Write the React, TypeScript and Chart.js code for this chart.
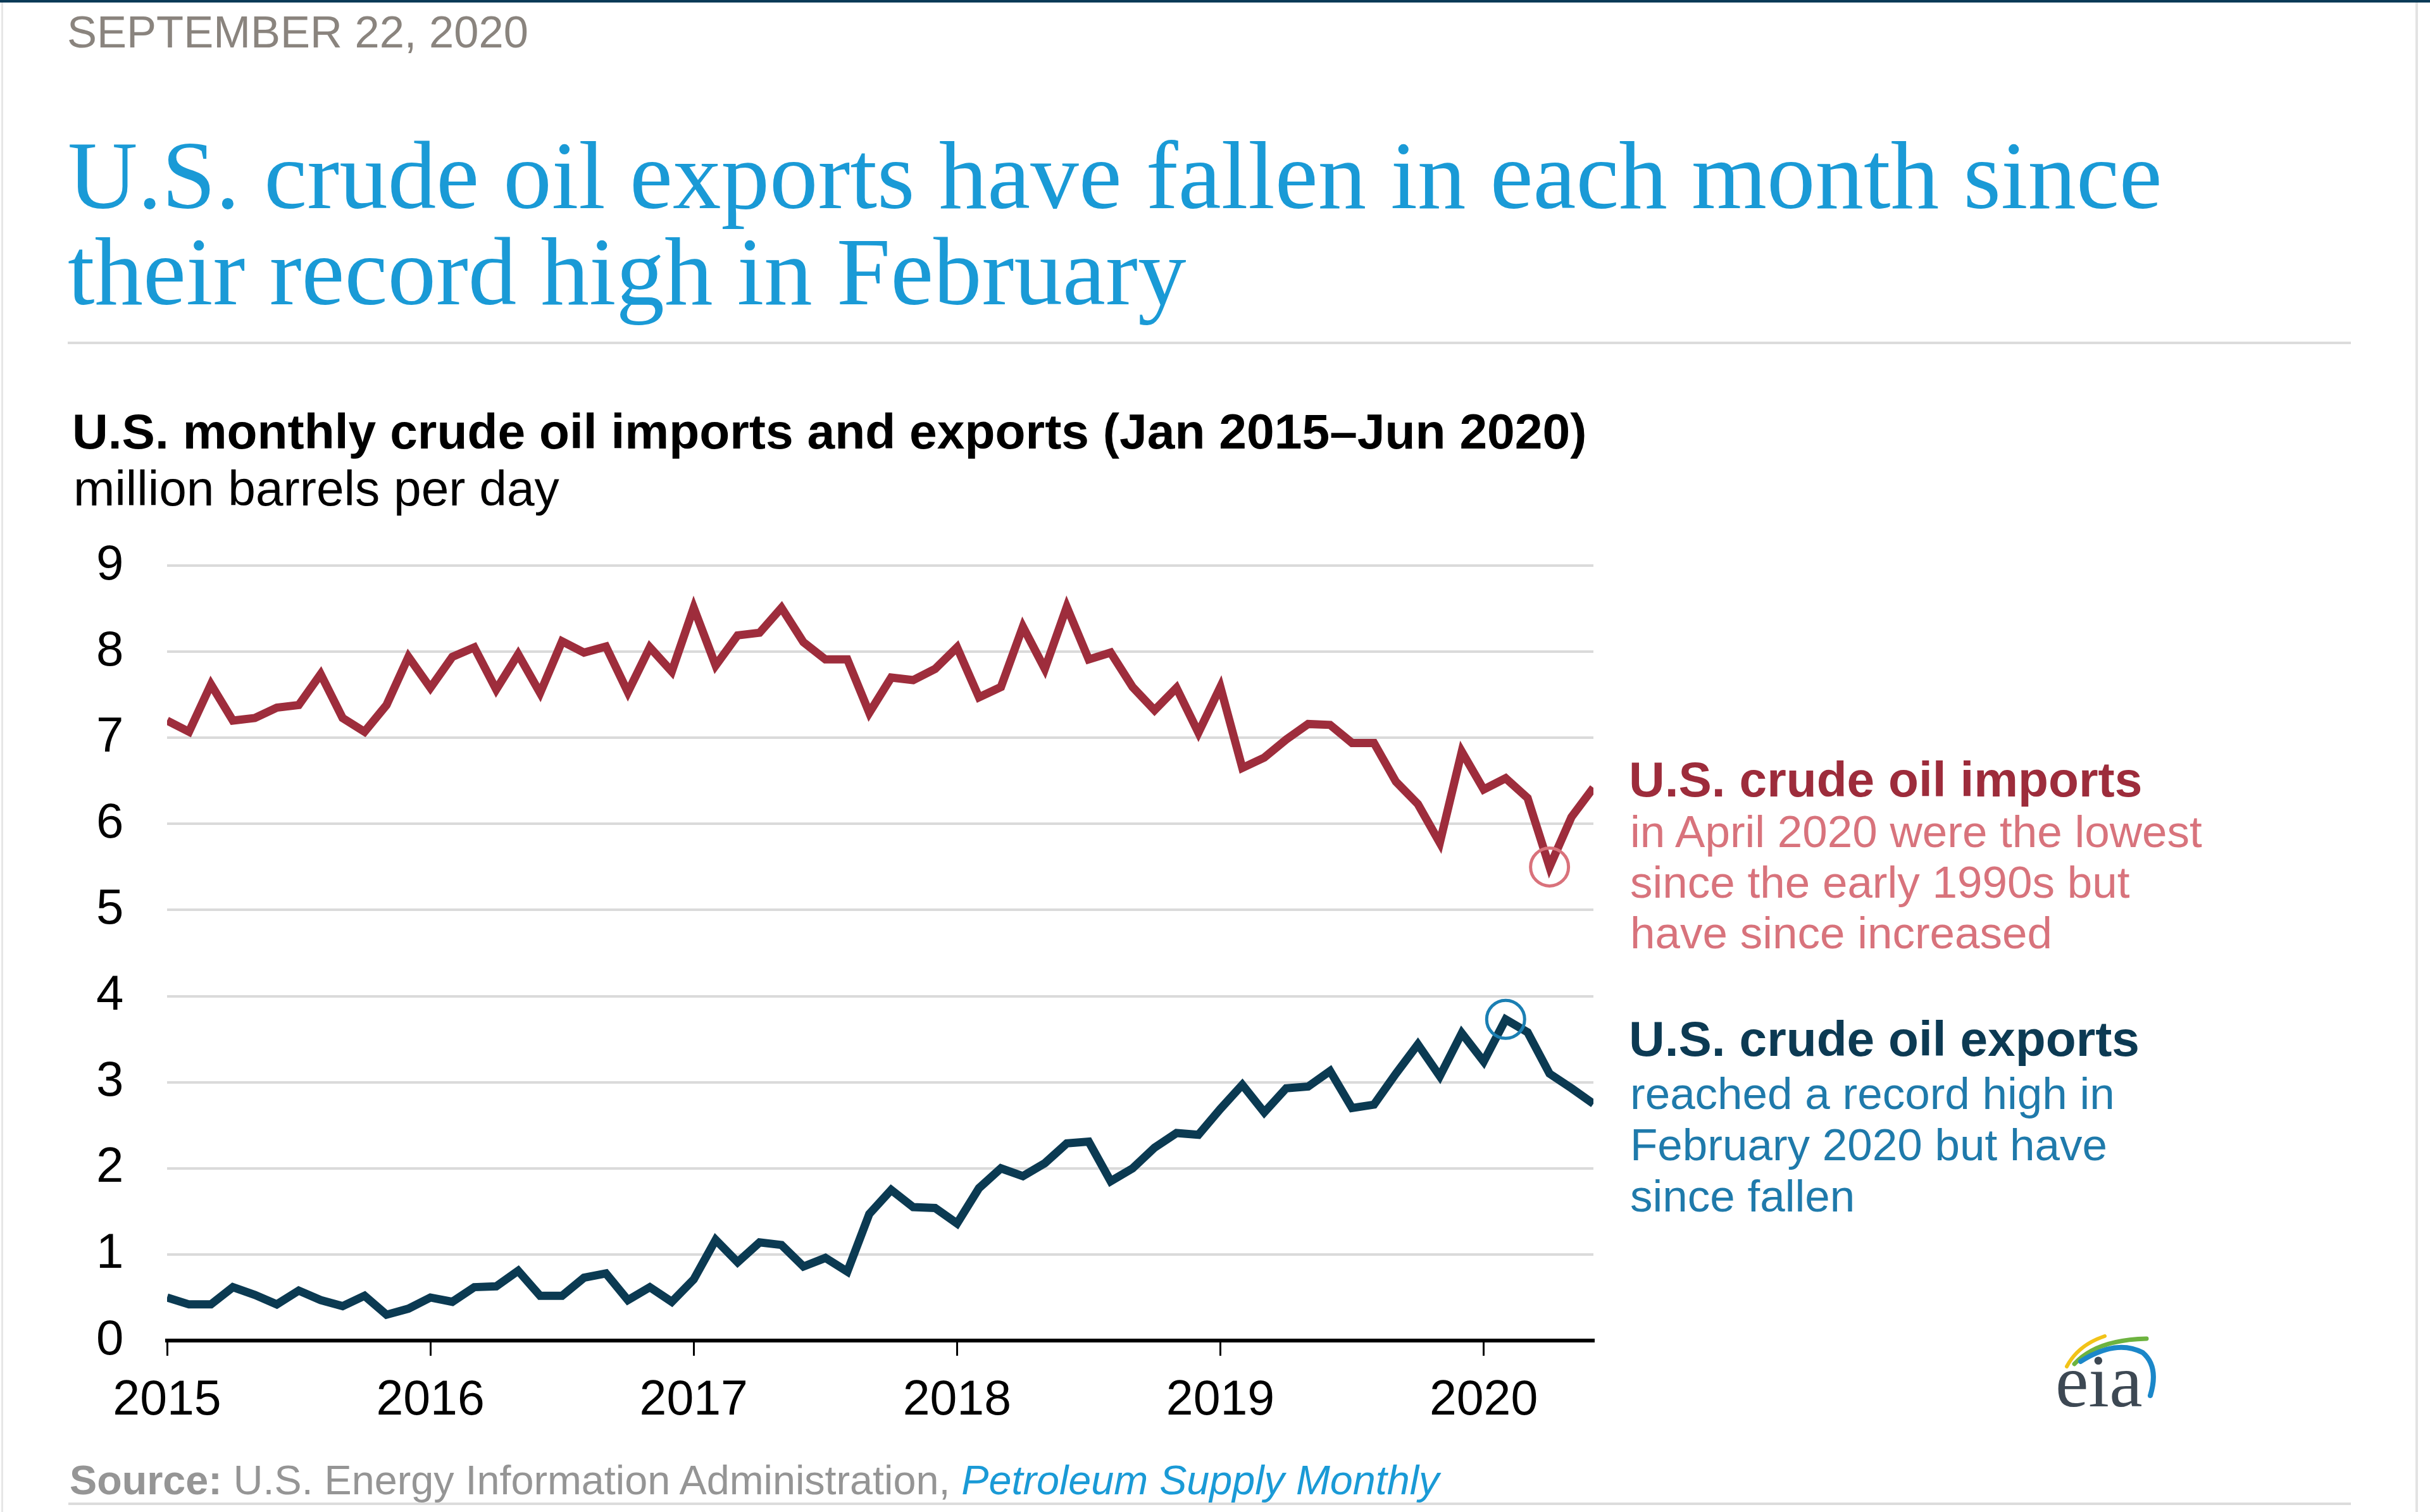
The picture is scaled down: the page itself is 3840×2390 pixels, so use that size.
import React, { useEffect, useRef } from "react";
import { Chart, registerables } from "chart.js";

Chart.register(...registerables);

// ---- data ----
const years = ["2015", "2016", "2017", "2018", "2019", "2020"];
const monthNames = ["Jan", "Feb", "Mar", "Apr", "May", "Jun", "Jul", "Aug", "Sep", "Oct", "Nov", "Dec"];
const yearTickLabels = ["2015", "2016", "2017", "2018", "2019", "2020"];
const yTickValues = [0, 1, 2, 3, 4, 5, 6, 7, 8, 9];

// U.S. crude oil imports, million barrels per day (Jan 2015 – Jun 2020)
const imports2015 = [7.2, 7.07, 7.62, 7.2, 7.23, 7.35, 7.38, 7.74, 7.23, 7.07, 7.38, 7.94];
const imports2016 = [7.58, 7.94, 8.05, 7.56, 7.97, 7.52, 8.12, 7.99, 8.06, 7.53, 8.05, 7.77];
const imports2017 = [8.51, 7.84, 8.19, 8.22, 8.51, 8.11, 7.91, 7.91, 7.29, 7.7, 7.67, 7.8];
const imports2018 = [8.05, 7.47, 7.59, 8.29, 7.8, 8.52, 7.91, 7.99, 7.59, 7.32, 7.58, 7.06];
const imports2019 = [7.59, 6.65, 6.77, 6.98, 7.16, 7.15, 6.94, 6.94, 6.49, 6.23, 5.78, 6.84];
const imports2020 = [6.4, 6.53, 6.3, 5.5, 6.08, 6.42];

// U.S. crude oil exports, million barrels per day
const exports2015 = [0.5, 0.42, 0.42, 0.62, 0.53, 0.42, 0.58, 0.47, 0.4, 0.52, 0.3, 0.37];
const exports2016 = [0.5, 0.45, 0.62, 0.63, 0.81, 0.52, 0.52, 0.73, 0.78, 0.47, 0.62, 0.45];
const exports2017 = [0.71, 1.17, 0.91, 1.14, 1.11, 0.86, 0.96, 0.8, 1.47, 1.75, 1.55, 1.54];
const exports2018 = [1.36, 1.77, 2.0, 1.91, 2.06, 2.29, 2.31, 1.85, 2.0, 2.24, 2.41, 2.39];
const exports2019 = [2.69, 2.97, 2.65, 2.93, 2.95, 3.13, 2.7, 2.74, 3.1, 3.44, 3.07, 3.57];
const exports2020 = [3.24, 3.73, 3.58, 3.1, 2.93, 2.75];

const importsLowLabel = "Apr 2020";
const exportsHighLabel = "Feb 2020";

// ---- derived tables ----
const importsSeries = [...imports2015, ...imports2016, ...imports2017, ...imports2018, ...imports2019, ...imports2020];
const exportsSeries = [...exports2015, ...exports2016, ...exports2017, ...exports2018, ...exports2019, ...exports2020];
const monthLabels: string[] = [];
years.forEach((y) => monthNames.forEach((m) => monthLabels.push(m + " " + y)));
const categories = monthLabels.slice(0, importsSeries.length);
const importsLowIndex = categories.indexOf(importsLowLabel);
const exportsHighIndex = categories.indexOf(exportsHighLabel);

const SANS = "'Liberation Sans', Arial, Helvetica, sans-serif";
const SERIF = "'Liberation Serif', 'Times New Roman', serif";

function topFor(baseline: number, fs: number, lh: number, asc = 0.905, desc = 0.212) {
  return baseline - ((lh - (asc + desc) * fs) / 2 + asc * fs);
}

function Txt(props: {
  x: number;
  baseline: number;
  fs: number;
  lh?: number;
  color: string;
  weight?: number | string;
  family?: string;
  serif?: boolean;
  children: React.ReactNode;
}) {
  const lh = props.lh ?? Math.round(props.fs * 1.15);
  const asc = props.serif ? 0.891 : 0.905;
  const desc = props.serif ? 0.216 : 0.212;
  return (
    <div
      style={{
        position: "absolute",
        left: props.x,
        top: topFor(props.baseline, props.fs, lh, asc, desc),
        fontSize: props.fs,
        lineHeight: lh + "px",
        color: props.color,
        fontWeight: props.weight ?? 400,
        fontFamily: props.family ?? (props.serif ? SERIF : SANS),
        whiteSpace: "nowrap",
      }}
    >
      {props.children}
    </div>
  );
}

function OilChart() {
  const ref = useRef<HTMLCanvasElement | null>(null);
  useEffect(() => {
    if (!ref.current) return;
    const chart = new Chart(ref.current, {
      type: "line",
      data: {
        labels: categories,
        datasets: [
          {
            label: "U.S. crude oil imports",
            data: importsSeries.map((v, i) => ({ x: i, y: v })),
            borderColor: "#9e2d3c",
            borderWidth: 13,
            tension: 0,
            pointRadius: (c: any) => (c.dataIndex === importsLowIndex ? 30 : 0),
            pointBorderColor: "#d9727b",
            pointBackgroundColor: "rgba(0,0,0,0)",
            pointBorderWidth: 5,
            pointHoverRadius: 0,
          },
          {
            label: "U.S. crude oil exports",
            data: exportsSeries.map((v, i) => ({ x: i, y: v })),
            borderColor: "#0b3a52",
            borderWidth: 13,
            tension: 0,
            pointRadius: (c: any) => (c.dataIndex === exportsHighIndex ? 30 : 0),
            pointBorderColor: "#1b7fb3",
            pointBackgroundColor: "rgba(0,0,0,0)",
            pointBorderWidth: 5,
            pointHoverRadius: 0,
          },
        ],
      },
      options: {
        animation: false,
        responsive: false,
        maintainAspectRatio: false,
        devicePixelRatio: 1,
        events: [],
        layout: { padding: { top: 94, right: 182, left: 152, bottom: 0 } },
        plugins: { legend: { display: false }, tooltip: { enabled: false } },
        scales: {
          x: {
            type: "linear",
            min: 0,
            max: categories.length - 1,
            afterBuildTicks: (s: any) => {
              s.ticks = yearTickLabels.map((_, i) => ({ value: i * 12 }));
            },
            afterFit: (s: any) => {
              s.height = 181;
            },
            ticks: {
              autoSkip: false,
              maxRotation: 0,
              minRotation: 0,
              padding: 26,
              color: "#000",
              font: { family: SANS, size: 77 },
              callback: (v: any) => yearTickLabels[Math.round(Number(v) / 12)] ?? "",
            },
            grid: {
              drawOnChartArea: false,
              drawTicks: true,
              tickLength: 24,
              tickWidth: 3,
              tickColor: "#000",
              lineWidth: 3,
              color: "#000",
            },
            border: { display: true, color: "#000", width: 6 },
          },
          y: {
            min: 0,
            max: 9,
            afterBuildTicks: (s: any) => {
              s.ticks = yTickValues.map((v) => ({ value: v }));
            },
            afterFit: (s: any) => {
              s.width = 112;
            },
            ticks: {
              padding: 0,
              crossAlign: "far",
              color: "#000",
              font: { family: SANS, size: 78 },
            },
            grid: { color: "#dadada", lineWidth: 4, drawTicks: false },
            border: { display: false },
          },
        },
      },
    } as any);
    return () => chart.destroy();
  }, []);
  return (
    <canvas
      ref={ref}
      width={2700}
      height={1500}
      style={{ position: "absolute", left: 0, top: 800, width: 2700, height: 1500 }}
    />
  );
}

function EiaLogo() {
  return (
    <svg
      width={240}
      height={160}
      viewBox="0 0 240 160"
      style={{ position: "absolute", left: 3228, top: 2090 }}
    >
      <path d="M38 70 Q56 36 98 22" stroke="#f2c318" strokeWidth={6} fill="none" strokeLinecap="round" />
      <path d="M50 66 Q84 28 164 26" stroke="#6db33f" strokeWidth={7} fill="none" strokeLinecap="round" />
      <path d="M60 62 Q116 26 158 48 Q184 70 170 116" stroke="#1b87c9" strokeWidth={8} fill="none" strokeLinecap="round" />
      <text x={20} y={133} fontFamily={SERIF} fontSize={118} fill="#3d4853">
        eia
      </text>
    </svg>
  );
}

export default function App() {
  return (
    <div
      style={{
        position: "absolute",
        left: 0,
        top: 0,
        width: 3840,
        height: 2390,
        background: "#ffffff",
        overflow: "hidden",
        fontFamily: SANS,
      }}
    >
      {/* frame */}
      <div style={{ position: "absolute", left: 0, top: 0, width: 3840, height: 4, background: "#0b3a57" }} />
      <div style={{ position: "absolute", left: 2, top: 4, width: 3, height: 2386, background: "#e6e6e6" }} />
      <div style={{ position: "absolute", left: 3817, top: 4, width: 4, height: 2386, background: "#e3e3e3" }} />

      <Txt x={106} baseline={75} fs={70.5} color="#8a847e">
        SEPTEMBER 22, 2020
      </Txt>

      <div
        style={{
          position: "absolute",
          left: 107,
          top: topFor(330, 153, 152, 0.891, 0.216),
          fontSize: 153,
          lineHeight: "152px",
          fontFamily: SERIF,
          color: "#1a9ad6",
          whiteSpace: "nowrap",
        }}
      >
        U.S. crude oil exports have fallen in each month since
        <br />
        their record high in February
      </div>

      <div style={{ position: "absolute", left: 107, top: 540, width: 3608, height: 4, background: "#dcdcdc" }} />

      <Txt x={114} baseline={709} fs={78.6} weight={700} color="#000">
        U.S. monthly crude oil imports and exports (Jan 2015–Jun 2020)
      </Txt>
      <Txt x={116} baseline={799} fs={78.5} color="#000">
        million barrels per day
      </Txt>

      <OilChart />

      {/* annotations */}
      <Txt x={2574} baseline={1259} fs={78.5} weight={700} color="#9d2c3b">
        U.S. crude oil imports
      </Txt>
      <Txt x={2576} baseline={1340} fs={71} lh={80} color="#d8737c">
        in April 2020 were the lowest
        <br />
        since the early 1990s but
        <br />
        have since increased
      </Txt>

      <Txt x={2574} baseline={1669} fs={78.5} weight={700} color="#0c3a53">
        U.S. crude oil exports
      </Txt>
      <Txt x={2576} baseline={1753} fs={71} lh={81} color="#1f7aab">
        reached a record high in
        <br />
        February 2020 but have
        <br />
        since fallen
      </Txt>

      <EiaLogo />

      <Txt x={110} baseline={2362} fs={64.7} color="#959595">
        <span style={{ fontWeight: 700 }}>Source:</span> U.S. Energy Information Administration,{" "}
        <span style={{ fontStyle: "italic", color: "#1a9ad6" }}>Petroleum Supply Monthly</span>
      </Txt>
      <div style={{ position: "absolute", left: 108, top: 2375, width: 3607, height: 4, background: "#dcdcdc" }} />
    </div>
  );
}
